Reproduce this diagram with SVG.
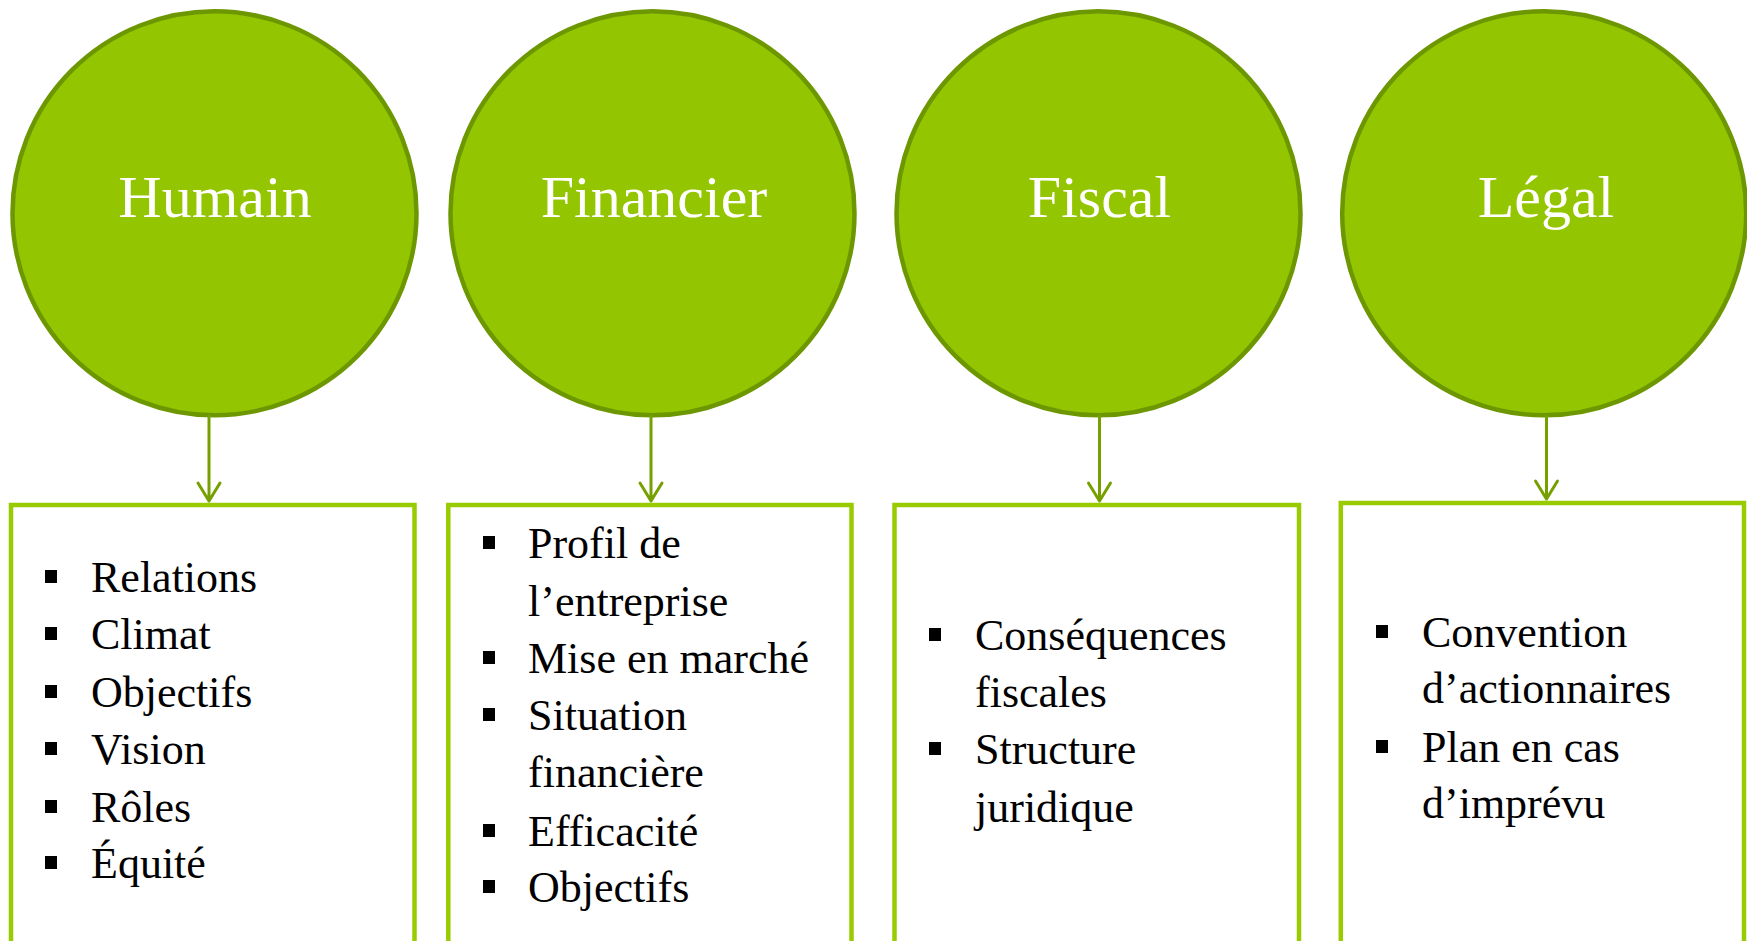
<svg xmlns="http://www.w3.org/2000/svg" width="1747" height="941" viewBox="0 0 1747 941">
<style>
.circ{fill:#93c500;stroke:#6d9700;stroke-width:4.5}
.title{font-family:"Liberation Serif",serif;font-size:60px;fill:#ffffff;text-anchor:middle}
.box{fill:#ffffff;stroke:#99cc00;stroke-width:4.5}
.item{font-family:"Liberation Serif",serif;font-size:44px;fill:#000000}
.bul{fill:#000000}
.conn{stroke:#76a000;stroke-width:3;fill:none;stroke-linecap:round;stroke-linejoin:round}
</style>
<rect width="1747" height="941" fill="#ffffff"/>
<g id="node-humain">
<circle class="circ" cx="214.5" cy="213.3" r="202"/>
<text class="title" x="215" y="217">Humain</text>
</g>
<g id="node-financier">
<circle class="circ" cx="652.5" cy="213.3" r="202"/>
<text class="title" x="654" y="217">Financier</text>
</g>
<g id="node-fiscal">
<circle class="circ" cx="1098.5" cy="213.3" r="202"/>
<text class="title" x="1099.5" y="217">Fiscal</text>
</g>
<g id="node-legal">
<circle class="circ" cx="1544.2" cy="213.3" r="202"/>
<text class="title" x="1546" y="217">Légal</text>
</g>
<g id="box-humain">
<rect class="box" x="11" y="505" width="403.5" height="460"/>
<rect class="bul" x="45" y="570" width="12" height="13"/>
<rect class="bul" x="45" y="627" width="12" height="13"/>
<rect class="bul" x="45" y="685" width="12" height="13"/>
<rect class="bul" x="45" y="742" width="12" height="13"/>
<rect class="bul" x="45" y="800" width="12" height="13"/>
<rect class="bul" x="45" y="856" width="12" height="13"/>
<text class="item" x="91" y="592">Relations</text>
<text class="item" x="91" y="649">Climat</text>
<text class="item" x="91" y="707">Objectifs</text>
<text class="item" x="91" y="764">Vision</text>
<text class="item" x="91" y="822">Rôles</text>
<text class="item" x="91" y="878">Équité</text>
</g>
<g id="box-financier">
<rect class="box" x="448.3" y="505" width="403.2" height="460"/>
<rect class="bul" x="483" y="536" width="12" height="13"/>
<rect class="bul" x="483" y="651" width="12" height="13"/>
<rect class="bul" x="483" y="708" width="12" height="13"/>
<rect class="bul" x="483" y="824" width="12" height="13"/>
<rect class="bul" x="483" y="880" width="12" height="13"/>
<text class="item" x="528" y="558">Profil de</text>
<text class="item" x="528" y="616">l’entreprise</text>
<text class="item" x="528" y="673">Mise en marché</text>
<text class="item" x="528" y="730">Situation</text>
<text class="item" x="528" y="787">financière</text>
<text class="item" x="528" y="846">Efficacité</text>
<text class="item" x="528" y="902">Objectifs</text>
</g>
<g id="box-fiscal">
<rect class="box" x="894.5" y="505" width="404.5" height="460"/>
<rect class="bul" x="929" y="628" width="12" height="13"/>
<rect class="bul" x="929" y="742" width="12" height="13"/>
<text class="item" x="975" y="650">Conséquences</text>
<text class="item" x="975" y="707">fiscales</text>
<text class="item" x="975" y="764">Structure</text>
<text class="item" x="975" y="822">juridique</text>
</g>
<g id="box-legal">
<rect class="box" x="1340.8" y="503" width="403.2" height="460"/>
<rect class="bul" x="1376" y="625" width="12" height="13"/>
<rect class="bul" x="1376" y="740" width="12" height="13"/>
<text class="item" x="1422" y="647">Convention</text>
<text class="item" x="1422" y="703">d’actionnaires</text>
<text class="item" x="1422" y="762">Plan en cas</text>
<text class="item" x="1422" y="818">d’imprévu</text>
</g>
<g id="connectors">
<path class="conn" d="M209 416V501M198 483L209 501L220 483"/>
<path class="conn" d="M651 416V501M640 483L651 501L662 483"/>
<path class="conn" d="M1099.5 416V501M1088.5 483L1099.5 501L1110.5 483"/>
<path class="conn" d="M1546.5 416V499M1535.5 481L1546.5 499L1557.5 481"/>
</g>
</svg>
